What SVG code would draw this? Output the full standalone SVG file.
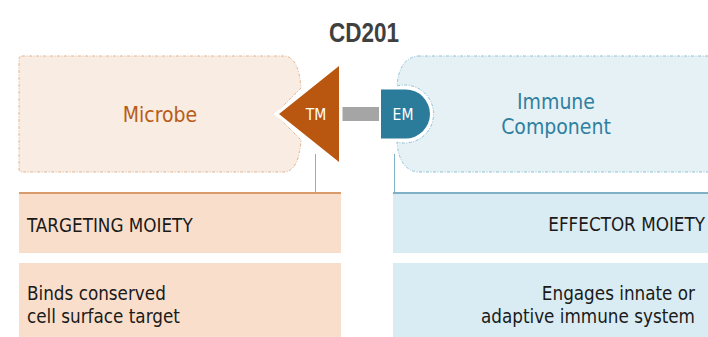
<svg xmlns="http://www.w3.org/2000/svg" width="708" height="337" viewBox="0 0 708 337">
  <style>
    .body { font-family: "DejaVu Sans Condensed", "DejaVu Sans", sans-serif; font-stretch: condensed; font-size: 18.7px; fill: #1a1a1a; }
    .label { font-family: "DejaVu Sans Condensed", "DejaVu Sans", sans-serif; font-stretch: condensed; font-size: 21px; text-anchor: middle; }
    .tag { font-family: "DejaVu Sans Condensed", "DejaVu Sans", sans-serif; font-stretch: condensed; font-size: 15.5px; fill: #ffffff; text-anchor: middle; }
    .title { font-family: "Liberation Sans Narrow", "Liberation Sans", sans-serif; font-weight: bold; font-size: 28px; fill: #404040; text-anchor: middle; }
    .warm-box { fill: #f8ece3; stroke: #e2b490; stroke-width: 1; stroke-dasharray: 3 1.5 1 1.5; }
    .cool-box { fill: #e6f1f5; stroke: #8ec2d6; stroke-width: 1; stroke-dasharray: 3 1.5 1 1.5; }
    .warm-fill { fill: #f9dfcb; }
    .cool-fill { fill: #d9ecf3; }
  </style>

  <text class="title" x="364" y="42" textLength="70" lengthAdjust="spacingAndGlyphs">CD201</text>

  <!-- Microbe with V-shaped notch for the targeting moiety -->
  <g id="microbe">
    <path class="warm-box" d="M22,56 H285 Q299,58 301,88 L275,114 L301,140 Q299,170 285,172 H22 Q19,172 19,169 V59 Q19,56 22,56 Z"/>
    <text class="label" x="160" y="121.5" fill="#b85c18">Microbe</text>
  </g>

  <!-- Immune component with rounded bite for the effector moiety -->
  <g id="immune-component">
    <path class="cool-box" d="M418,56 H712 V172 H418 Q399,170 397,142 A29 29 0 1 0 397,86 Q399,58 418,56 Z"/>
    <text class="label" x="556" y="109" fill="#2f80a0">Immune</text>
    <text class="label" x="556" y="134" fill="#2f80a0">Component</text>
  </g>

  <!-- Linker and leader lines -->
  <g id="connectors">
    <rect x="338" y="107" width="44" height="14" fill="#a5a5a5"/>
    <line x1="315.5" y1="154" x2="315.5" y2="192" stroke="#d09c78" stroke-width="1"/>
    <line x1="394.5" y1="154" x2="394.5" y2="192" stroke="#7fb2c4" stroke-width="1"/>
  </g>

  <g id="targeting-moiety">
    <path d="M279,114 L339,66 L339,162 Z" fill="#b9560f" stroke="#ffffff" stroke-width="7" stroke-linejoin="miter" paint-order="stroke"/>
    <text class="tag" x="316" y="120">TM</text>
  </g>

  <g id="effector-moiety">
    <path d="M381,89.5 H405.5 A24.5 24.5 0 0 1 405.5,138.5 H381 Z" fill="#2b7b9b" stroke="#ffffff" stroke-width="4" paint-order="stroke"/>
    <text class="tag" x="403" y="120">EM</text>
  </g>

  <!-- Description table -->
  <g id="targeting-header">
    <rect class="warm-fill" x="19" y="192" width="322" height="61"/>
    <rect x="19" y="192" width="322" height="2" fill="#d99b6c"/>
    <text class="body" x="27" y="231.5">TARGETING MOIETY</text>
  </g>
  <g id="targeting-desc">
    <rect class="warm-fill" x="19" y="263" width="322" height="74"/>
    <text class="body" x="27" y="300">Binds conserved</text>
    <text class="body" x="27" y="323">cell surface target</text>
  </g>
  <g id="effector-header">
    <rect class="cool-fill" x="393" y="192" width="315" height="61"/>
    <rect x="393" y="192" width="315" height="2" fill="#7fb0c3"/>
    <text class="body" x="705" y="231" text-anchor="end">EFFECTOR MOIETY</text>
  </g>
  <g id="effector-desc">
    <rect class="cool-fill" x="393" y="263" width="315" height="74"/>
    <text class="body" x="695" y="300" text-anchor="end">Engages innate or</text>
    <text class="body" x="695" y="323" text-anchor="end">adaptive immune system</text>
  </g>
</svg>
